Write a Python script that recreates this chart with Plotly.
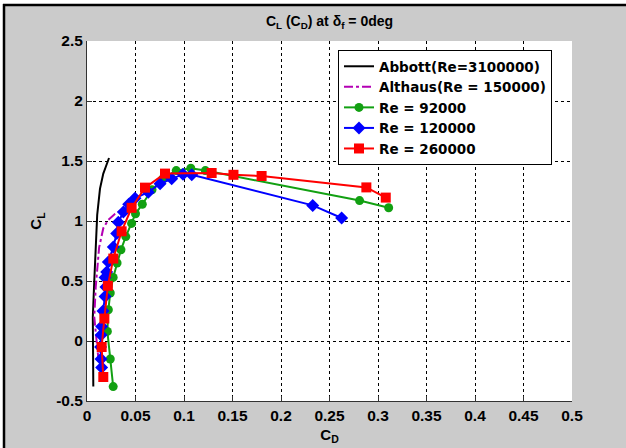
import plotly.graph_objects as go

# ---- data ----
abbott_cd = [0.0065, 0.0058, 0.0060, 0.0075, 0.0090, 0.0105, 0.0134, 0.0168, 0.0193, 0.0227]
abbott_cl = [-0.38, 0.00, 0.20, 0.50, 0.80, 1.05, 1.27, 1.395, 1.45, 1.525]

althaus_cd = [0.0120, 0.0095, 0.0075, 0.0090, 0.0105, 0.0125, 0.0168, 0.0220, 0.0290, 0.0375]
althaus_cl = [-0.17, 0.03, 0.20, 0.45, 0.62, 0.78, 0.94, 1.01, 1.06, 1.10]

re92_cd = [0.027, 0.024, 0.021, 0.022, 0.024, 0.027, 0.031, 0.035, 0.040, 0.046,
           0.050, 0.057, 0.067, 0.078, 0.092, 0.107, 0.122, 0.281, 0.311]
re92_cl = [-0.38, -0.15, 0.08, 0.26, 0.40, 0.53, 0.65, 0.76, 0.87, 0.98,
           1.06, 1.14, 1.26, 1.35, 1.42, 1.44, 1.42, 1.17, 1.11]

re120_cd = [0.0151, 0.0144, 0.0140, 0.0145, 0.0151, 0.0165, 0.0186, 0.0195, 0.0186, 0.0203,
            0.0220, 0.0271, 0.0306, 0.0323, 0.0375, 0.0430, 0.0495, 0.0632, 0.0753, 0.0873,
            0.0990, 0.1080, 0.2327, 0.2625]
re120_cl = [-0.22, -0.15, -0.05, 0.05, 0.12, 0.25, 0.37, 0.45, 0.53, 0.575,
            0.658, 0.783, 0.895, 0.99, 1.075, 1.14, 1.19, 1.24, 1.31, 1.353,
            1.39, 1.385, 1.13, 1.025]

re260_cd = [0.0168, 0.0151, 0.0179, 0.0215, 0.0271, 0.0357, 0.0460, 0.0598, 0.0804,
            0.1285, 0.1510, 0.1800, 0.2880, 0.3080]
re260_cl = [-0.30, -0.05, 0.187, 0.46, 0.687, 0.914, 1.11, 1.278, 1.395,
            1.40, 1.385, 1.375, 1.28, 1.195]

x_ticks = [0, 0.05, 0.1, 0.15, 0.2, 0.25, 0.3, 0.35, 0.4, 0.45, 0.5]
x_tick_labels = ["0", "0.05", "0.1", "0.15", "0.2", "0.25", "0.3", "0.35", "0.4", "0.45", "0.5"]
y_ticks = [-0.5, 0, 0.5, 1, 1.5, 2, 2.5]
y_tick_labels = ["-0.5", "0", "0.5", "1", "1.5", "2", "2.5"]

FONT = "Liberation Sans, Arial, sans-serif"
LEG_FONT = "DejaVu Sans, Liberation Sans, sans-serif"

fig = go.Figure()
fig.add_trace(go.Scatter(x=abbott_cd, y=abbott_cl, mode="lines",
                         line=dict(color="black", width=2),
                         name="Abbott(Re=3100000)"))
fig.add_trace(go.Scatter(x=althaus_cd, y=althaus_cl, mode="lines",
                         line=dict(color="#b400b4", width=2, dash="dashdot"),
                         name="Althaus(Re = 150000)"))
fig.add_trace(go.Scatter(x=re92_cd, y=re92_cl, mode="lines+markers",
                         line=dict(color="#12a012", width=2),
                         marker=dict(symbol="circle", size=9, color="#12a012"),
                         name="Re = 92000"))
fig.add_trace(go.Scatter(x=re120_cd, y=re120_cl, mode="lines+markers",
                         line=dict(color="#0000ff", width=2),
                         marker=dict(symbol="diamond", size=10, color="#0000ff"),
                         name="Re = 120000"))
fig.add_trace(go.Scatter(x=re260_cd, y=re260_cl, mode="lines+markers",
                         line=dict(color="#ff0000", width=2),
                         marker=dict(symbol="square", size=10, color="#ff0000"),
                         name="Re = 260000"))

axis_common = dict(
    showgrid=True, gridcolor="black", gridwidth=1, griddash="3px,3px",
    zeroline=False, showline=True, linecolor="#333333", linewidth=1,
    ticks="inside", ticklen=5, tickcolor="#333333",
    tickfont=dict(family=FONT, size=15.5, color="black", weight="bold"),
)

fig.update_xaxes(range=[0, 0.5], tickvals=x_ticks, ticktext=x_tick_labels,
                 title=dict(text="C<sub>D</sub>", standoff=6,
                            font=dict(family=FONT, size=15, color="black", weight="bold")),
                 **axis_common)
fig.update_yaxes(range=[-0.5, 2.5], tickvals=y_ticks, ticktext=y_tick_labels,
                 title=dict(text="C<sub>L</sub>", standoff=10,
                            font=dict(family=FONT, size=15, color="black", weight="bold")),
                 **axis_common)

# outer frame (white strip + black edge at top and left)
def px_x(px):
    return (px - 87) / 485.0

def px_y(py):
    return (401 - py) / 360.0

shapes = [
    dict(type="rect", xref="paper", yref="paper", x0=px_x(0), x1=px_x(627), y0=px_y(4), y1=px_y(-1),
         fillcolor="white", line=dict(width=0)),
    dict(type="rect", xref="paper", yref="paper", x0=px_x(-1), x1=px_x(3), y0=px_y(449), y1=px_y(-1),
         fillcolor="white", line=dict(width=0)),
    dict(type="line", xref="paper", yref="paper", x0=px_x(3), x1=px_x(627), y0=px_y(5), y1=px_y(5),
         line=dict(color="black", width=2.5)),
    dict(type="line", xref="paper", yref="paper", x0=px_x(4), x1=px_x(4), y0=px_y(449), y1=px_y(4),
         line=dict(color="black", width=2.5)),
]

fig.update_layout(
    width=626, height=448,
    margin=dict(l=87, r=54, t=41, b=47, autoexpand=False),
    paper_bgcolor="#cbcbcb", plot_bgcolor="white",
    title=dict(text="C<sub>L</sub> (C<sub>D</sub>) at δ<sub>f</sub> = 0deg",
               x=0.5, xref="paper", y=1 - 21 / 448.0, yref="container",
               xanchor="center", yanchor="middle",
               font=dict(family=FONT, size=14, color="black", weight="bold")),
    legend=dict(x=px_x(338), y=px_y(50), xanchor="left", yanchor="top",
                bgcolor="white", bordercolor="black", borderwidth=1,
                font=dict(family=LEG_FONT, size=13.5, color="black", weight="bold"),
                tracegroupgap=0),
    showlegend=True,
    shapes=shapes,
)

fig.write_html("out.html", config={"displayModeBar": False},
               post_script="document.body.style.margin='0';")
